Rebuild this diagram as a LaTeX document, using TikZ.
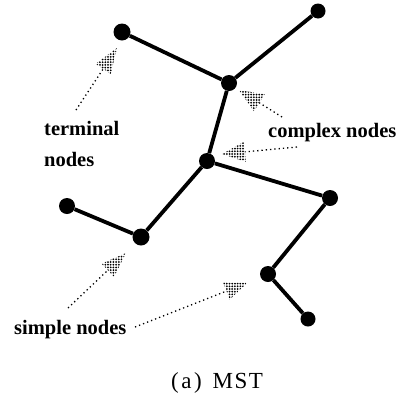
\documentclass[tikz,border=0pt]{standalone}
\usepackage{fontspec}
\setmainfont{Liberation Serif}
\usetikzlibrary{calc,patterns.meta}
\tikzset{
  vert/.style={circle,fill=black,inner sep=0pt,minimum size=16pt},
  edgeline/.style={line width=3.8pt},
  dotline/.style={line width=1.3pt,dash pattern=on 1.3pt off 3pt},
  lbl/.style={anchor=base west,inner sep=0pt,font=\fontsize{20.5}{20.5}\selectfont\bfseries},
  captext/.style={anchor=base west,inner sep=0pt,font=\fontsize{23}{23}\selectfont}
}
\newcommand{\stiparrow}[4]{%
  \coordinate (#2b) at ($(#2)!#3!(#1)$);
  \draw[dotline] (#1) -- (#2b);
  \fill[pattern={Dots[distance=2.7pt,radius=1pt]},pattern color=black] (#2) -- ($(#2b)!#4!90:(#2)$) -- ($(#2b)!#4!-90:(#2)$) -- cycle;}
\begin{document}
\begin{tikzpicture}[x=1pt,y=-1pt]
\useasboundingbox (0,0) rectangle (404,397);
% vertices
\node[vert,minimum size=17pt] (A) at (122,32) {};
\node[vert,minimum size=15pt] (B) at (318,11) {};
\node[vert] (C) at (229,83) {};
\node[vert] (D) at (207,161) {};
\node[vert] (E) at (67,206) {};
\node[vert,minimum size=17pt] (F) at (141,237) {};
\node[vert] (G) at (330,198) {};
\node[vert] (H) at (268,274) {};
\node[vert,minimum size=15pt] (I) at (308,319) {};
% edges
\draw[edgeline] (A) -- (C);
\draw[edgeline] (B) -- (C);
\draw[edgeline] (C) -- (D);
\draw[edgeline] (D) -- (F);
\draw[edgeline] (E) -- (F);
\draw[edgeline] (D) -- (G);
\draw[edgeline] (G) -- (H);
\draw[edgeline] (H) -- (I);
% labels
\node[lbl] (term) at (44,135) {terminal};
\node[lbl] (termn) at (44,166) {nodes};
\node[lbl] (cplx) at (268,137) {complex nodes};
\node[lbl] (simp) at (14,334) {simple nodes};
\node[captext] (capt) at (171,388) {(\kern2.5pt a\kern2.5pt)\kern11pt M\kern1.5pt S\kern1.5pt T};
% pointer arrows
\coordinate (t1) at (76,110);  \coordinate (p1) at (117,48);
\coordinate (t2) at (282,117); \coordinate (p2) at (239,90);
\coordinate (t3) at (297,147); \coordinate (p3) at (222,154);
\coordinate (t4) at (68,308);  \coordinate (p4) at (126,253);
\coordinate (t5) at (135,327); \coordinate (p5) at (247,283);
\stiparrow{t1}{p1}{25pt}{9pt}
\stiparrow{t2}{p2}{24pt}{10pt}
\stiparrow{t3}{p3}{23pt}{10pt}
\stiparrow{t4}{p4}{25pt}{9pt}
\stiparrow{t5}{p5}{22pt}{9pt}
\end{tikzpicture}
\end{document}
